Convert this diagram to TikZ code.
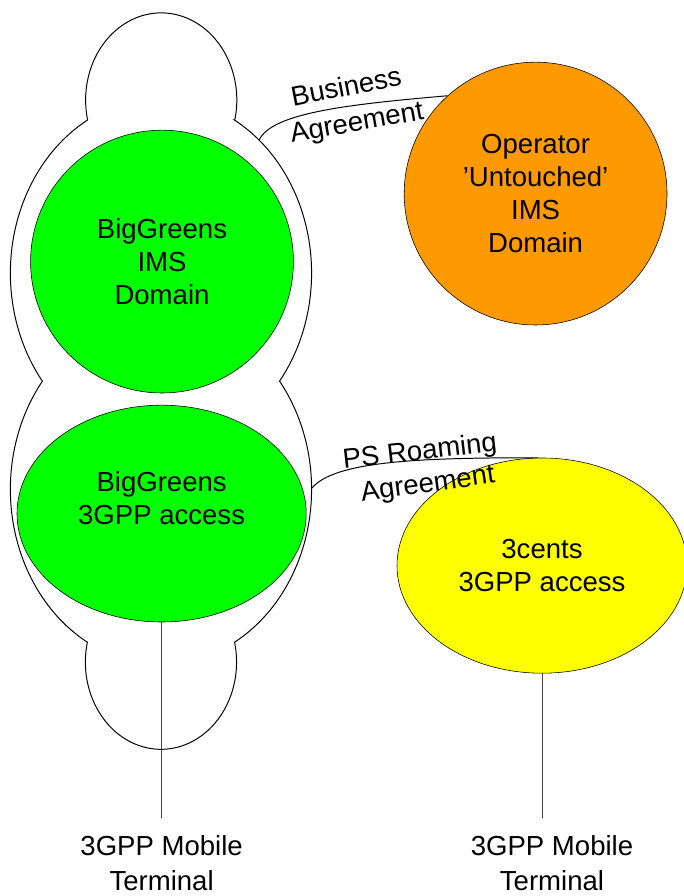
\documentclass[tikz,border=0pt]{standalone}
\usepackage{fontspec}
\setmainfont{Liberation Sans}
\usetikzlibrary{shapes.geometric, positioning}
\definecolor{bggreen}{RGB}{0, 255, 0}
\definecolor{opcolor}{RGB}{255, 153, 0}
\definecolor{centscolor}{RGB}{255, 255, 0}

\begin{document}
\begin{tikzpicture}[
    domainbox/.style={draw, circle, minimum size=6.57cm, inner sep=0pt, align=center, font=\fontsize{19.6}{23.5}\selectfont},
    accessbox/.style={draw, ellipse, minimum width=7.23cm, minimum height=5.42cm, inner sep=0pt, align=center, font=\fontsize{19.6}{23.5}\selectfont},
    txt/.style={inner sep=0pt, align=center, font=\fontsize{19.6}{23.5}\selectfont},
    terminal/.style={inner sep=0pt, align=center, font=\fontsize{19.6}{24.9}\selectfont},
    link/.style={line width=0.7pt},
    wire/.style={line width=0.5pt, black!75}
]
    \useasboundingbox (0,0) rectangle (17.075,22.4);

    % BigGreens outline
    \draw[link] (5.87,19.40)
        arc[start angle=-13.2, end angle=193.2, x radius=1.89, y radius=2.18]
        arc[start angle=119.1, end angle=218.1, x radius=3.76, y radius=4.38]
        arc[start angle=141.9, end angle=240.8, x radius=3.76, y radius=4.38]
        arc[start angle=166.8, end angle=373.2, x radius=1.89, y radius=2.18]
        arc[start angle=299.2, end angle=398.1, x radius=3.76, y radius=4.38]
        arc[start angle=321.9, end angle=420.9, x radius=3.76, y radius=4.38]
        -- cycle;

    % Domains
    \node[domainbox, fill=bggreen] (ims) at (4.05, 15.86) {BigGreens\\IMS\\Domain};
    \node[accessbox, fill=bggreen] (bgaccess) at (4.04, 9.56) {};
    \node[txt] (bgaccesstext) at (4.04, 9.95) {BigGreens\\3GPP access};
    \node[domainbox, fill=opcolor] (operator) at (13.39, 17.56) {Operator\\’Untouched’\\IMS\\Domain};
    \node[accessbox, fill=centscolor, minimum width=7.25cm, minimum height=5.38cm] (cents) at (13.55, 8.26) {3cents\\3GPP access};

    % Agreements
    \coordinate (bizstart) at (6.48, 18.9);
    \draw[link] (bizstart) to[out=65, in=185, out looseness=0.4, in looseness=1.3] (operator.132);
    \node[txt, rotate=11] (bizlabel) at (8.65, 20.25) {Business};
    \node[txt, rotate=10] (bizlabel2) at (8.93, 19.29) {Agreement};

    \coordinate (psstart) at (7.80, 10.2);
    \draw[link] (psstart) to[out=50, in=180, out looseness=0.4, in looseness=1.3] (cents.92);
    \node[txt, rotate=6.5] (pslabel) at (10.5, 11.08) {PS Roaming};
    \node[txt, rotate=8] (pslabel2) at (10.7, 10.26) {Agreement};

    % Terminals
    \coordinate (ueL) at (4.04, 1.95);
    \coordinate (ueR) at (13.55, 1.95);
    \draw[wire] (bgaccess.south) -- (ueL);
    \draw[wire] (cents.south) -- (ueR);
    \node[terminal, below=0.43cm of ueL] (termL) {3GPP Mobile\\Terminal};
    \node[terminal, below=0.43cm of ueR, xshift=0.25cm] (termR) {3GPP Mobile\\Terminal};
\end{tikzpicture}
\end{document}
